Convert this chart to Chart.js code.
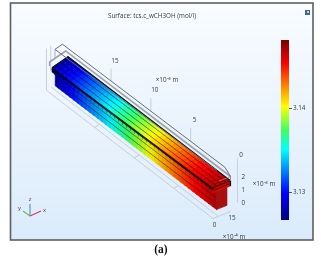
<!DOCTYPE html>
<html><head><meta charset="utf-8">
<script src="https://cdn.jsdelivr.net/npm/chart.js@4"></script>
<style>
html,body{margin:0;padding:0;background:#fff;width:321px;height:257px;overflow:hidden}
#wrap{position:absolute;left:0;top:0;width:321px;height:257px}
canvas{position:absolute;left:0;top:0;filter:blur(.4px)}
#cap{position:absolute;left:141px;width:40px;top:242px;text-align:center;font:bold 11.5px/14px "Liberation Serif",serif;color:#111}
</style></head><body>
<div id="wrap"><canvas id="main" width="321" height="257"></canvas><canvas id="bar" width="321" height="257"></canvas><div id="cap">(a)</div></div>
<script>
// ---- data ----
const titleText = "Surface: tcs.c_wCH3OH (mol/l)";
const lengthStations = [0,0.5,1,1.5,2,2.5,3,3.5,4,4.5,5,5.5,6,6.5,7,7.5,8,8.5,9,9.5,10,10.5,11,11.5,12,12.5,13,13.5,14,14.5,15,15.5,16,16.5,17,17.5,18,18.5,19,19.5,20,20.4];
const surfaceValues = [3.1468,3.1465,3.1462,3.1459,3.1456,3.1453,3.1449,3.1445,3.1441,3.1437,3.1433,3.1428,3.1424,3.1419,3.1414,3.1409,3.1404,3.1399,3.1394,3.1389,3.1384,3.1379,3.1373,3.1368,3.1363,3.1358,3.1352,3.1347,3.1342,3.1337,3.1332,3.1327,3.1322,3.1317,3.1312,3.1307,3.1302,3.1297,3.1292,3.1287,3.1281,3.1275];
const colorScaleMin = 3.1267, colorScaleMax = 3.1481;
const colorBarTicks = [3.13, 3.14];
const colorFractions = [0,0.15,0.39,0.5,0.63,0.75,0.87,1];
const colorHexes = ["#00007a","#0000ff","#00ffff","#40ff60","#ffff00","#ff8000","#ff0000","#7a0000"];
const lengthTicks = [15,10,5];
const widthTicks = [0,15];
const heightTicks = [0,1,2];
const barLength = 20.4, barWidth = 15;
const stemSide = [3,12];            // v range of lower channel
const flangeHeights = [1.45,1.85];  // w range of upper plate
const topChannelLines = [3.5,7.5,11.5];
const stemChannelLines = [0.45,0.95];

// ---- projection of model coordinates to the chart's view scale ----
function project(u,v,w){
  const t=u/barLength;
  const ox=213+(52-213)*t, oy=211+(88-211)*t;
  const vx=(17.5+(16-17.5)*t)/barWidth, vy=(-7+(-11+7)*t)/barWidth;
  const h=12.5+(11-12.5)*t;
  return {x:ox+vx*v, y:oy+vy*v-h*w};
}
const P=(a)=>a.map(p=>project(p[0],p[1],p[2]));
function hexRgb(h){return [1,3,5].map(i=>parseInt(h.substr(i,2),16));}
function colorOf(val,shade){
  let f=(val-colorScaleMin)/(colorScaleMax-colorScaleMin); f=Math.max(0,Math.min(1,f));
  let i=0; while(i<colorFractions.length-2 && f>colorFractions[i+1]) i++;
  const k=(f-colorFractions[i])/(colorFractions[i+1]-colorFractions[i]);
  const a=hexRgb(colorHexes[i]),b=hexRgb(colorHexes[i+1]);
  return "rgb("+a.map((c,j)=>Math.round((c+(b[j]-c)*k)*shade)).join(",")+")";
}
const sets=[];
function poly(pts,color){sets.push({data:P(pts),showLine:true,fill:'shape',backgroundColor:color,borderColor:color,borderWidth:.6,pointRadius:0,tension:0,clip:false});}
function line(pts,color,w){sets.push({data:P(pts),showLine:true,fill:false,borderColor:color,borderWidth:w,pointRadius:0,tension:0,clip:false});}

const wTop=2.6, wFloor=-.6, uA=.7, uB=21.1, lg="#c9cfd6", dg="#6b6f74";
// floor wires
line([[uB,0,wFloor],[0,0,wFloor],[0,15,wFloor]],lg,1);
line([[uB,4.5,wFloor],[0,4.5,wFloor]],lg,1);
lengthTicks.forEach(u=>line([[u,0,wFloor],[u,4.5,wFloor]],lg,1));
// far-end wires
line([[uB,0,wFloor],[uB,0,wTop+.6]],lg,1);
line([[uB,4,wFloor+1.5],[uB,4,wTop+.6]],lg,1);
line([[uB,8,1.8],[uB,8,wTop]],"#aab0b6",1);
// back vertical tick lines
lengthTicks.forEach(u=>line([[u,15,wTop],[u,15,3.7]],lg,1));
line([[-.8,15.5,.5],[-.8,15.5,4]],lg,1);
// bar faces
for(let i=0;i<lengthStations.length-1;i++){
  const a=lengthStations[i],b=lengthStations[i+1],val=surfaceValues[i];
  poly([[a,stemSide[0],0],[b,stemSide[0],0],[b,stemSide[0],flangeHeights[0]],[a,stemSide[0],flangeHeights[0]],[a,stemSide[0],0]],colorOf(val,.94));
  poly([[a,0,flangeHeights[0]],[b,0,flangeHeights[0]],[b,0,flangeHeights[1]],[a,0,flangeHeights[1]],[a,0,flangeHeights[0]]],colorOf(val,.55));
  poly([[a,0,flangeHeights[1]],[b,0,flangeHeights[1]],[b,barWidth,flangeHeights[1]],[a,barWidth,flangeHeights[1]],[a,0,flangeHeights[1]]],colorOf(val,1));
}
// near end faces
poly([[0,stemSide[0],0],[0,stemSide[1],0],[0,stemSide[1],flangeHeights[0]],[0,stemSide[0],flangeHeights[0]],[0,stemSide[0],0]],"#a81010");
poly([[0,0,flangeHeights[0]],[0,barWidth,flangeHeights[0]],[0,barWidth,flangeHeights[1]],[0,0,flangeHeights[1]],[0,0,flangeHeights[0]]],"#c80808");
// channel lines
topChannelLines.forEach(v=>line([[0,v,flangeHeights[1]],[barLength,v,flangeHeights[1]]],"rgba(0,0,0,.55)",.9));
stemChannelLines.forEach(w=>line([[0,stemSide[0],w],[barLength,stemSide[0],w]],"rgba(0,0,0,.5)",.9));
line([[0,0,flangeHeights[1]-.1],[barLength,0,flangeHeights[1]-.1]],"rgba(0,0,0,.85)",2);
line([[0,0,1.65],[0,barWidth,1.65]],"rgba(0,0,0,.7)",.7);
line([[0,0,flangeHeights[1]],[0,barWidth,flangeHeights[1]]],"rgba(0,0,0,.8)",.8);
line([[0,barWidth,flangeHeights[0]],[0,barWidth,flangeHeights[1]],[barLength,barWidth,flangeHeights[1]],[barLength,0,flangeHeights[1]]],"#101014",1.2);
// wires over bar
line([[0,barWidth,2.2],[barLength+.3,barWidth,2.2],[barLength+.3,0,2.2],[barLength+.3,0,flangeHeights[1]]],"#9ea2a6",1.6);
line([[0,5,2.2],[0,barWidth,2.2],[0,barWidth,flangeHeights[1]]],"#8a8e92",.8);
line([[uA,8,wTop],[uB,8,wTop],[uB,15,wTop],[uA,15,wTop],[0,15,2.2]],dg,1);

// axis triad (view-independent indicator)
const triad=[{to:[30,204],c:"#4a90d0",l:"z",at:[30,199]},{to:[41,211],c:"#e0306a",l:"x",at:[44.5,210]},{to:[23,211],c:"#60c050",l:"y",at:[19.5,208]}];

const textColor="#3a3a3a", fontFam='"Open Sans",sans-serif';
const lengthLabelPts = lengthTicks.map(u=>{const p=project(u,15,4.35);return {t:String(u),x:p.x+4,y:p.y};});
const widthLabelPts = widthTicks.map(v=>{const p=project(0,v,-1.15);return {t:String(v),x:p.x+1.5,y:p.y};});
const heightLabelPts = heightTicks.map(w=>{const p=project(-.8,16.3,w+.45);return {t:String(w),x:p.x+5,y:p.y-(w*.2)};});

const decorate={
  id:'decorate',
  beforeDraw(c){
    const x=c.ctx;
    x.save();
    const g=x.createLinearGradient(0,3,0,240);
    g.addColorStop(0,"#f9fcff");g.addColorStop(1,"#dbebfb");
    x.fillStyle=g;x.fillRect(10,3,303,237);
    x.strokeStyle="#5c5f60";x.lineWidth=1.6;x.strokeRect(10.5,3,302.5,237);
    // graphics-window icon
    x.fillStyle="#3a62b8";x.fillRect(305,10,5,5);x.fillStyle="#f2d060";x.fillRect(307,11,2,2);
    x.restore();
  },
  afterDraw(c){
    const x=c.ctx;
    x.save();
    triad.forEach(a=>{
      x.strokeStyle=a.c;x.fillStyle=a.c;x.lineWidth=1.1;
      x.beginPath();x.moveTo(30,216);x.lineTo(a.to[0],a.to[1]);x.stroke();
    });
    x.fillStyle=textColor;x.textAlign="center";x.textBaseline="middle";
    x.font="5.8px "+fontFam;
    triad.forEach(a=>x.fillText(a.l,a.at[0],a.at[1]));
    x.font="6.3px "+fontFam;
    x.fillText(titleText,152,16);
    [...lengthLabelPts,...widthLabelPts,...heightLabelPts].forEach(l=>x.fillText(l.t,l.x,l.y));
    x.fillText("0",241,155);
    x.fillText("×10⁻³ m",167,80);
    x.fillText("×10⁻³ m",264,184);
    x.fillText("×10⁻⁴ m",234,237);
    x.restore();
  }
};
new Chart(document.getElementById('main'),{
  type:'scatter',
  data:{datasets:sets.slice().reverse()},
  options:{responsive:false,animation:false,
    layout:{padding:0},
    plugins:{legend:{display:false},tooltip:{enabled:false},title:{display:false}},
    scales:{x:{type:'linear',display:false,min:0,max:321},y:{type:'linear',display:false,min:0,max:257,reverse:true}}
  },
  plugins:[decorate]
});
new Chart(document.getElementById('bar'),{
  type:'bar',
  data:{labels:['c'],datasets:[{data:[[colorScaleMin,colorScaleMax]],barPercentage:1,categoryPercentage:1,borderWidth:0,
    backgroundColor(ctx){
      const ch=ctx.chart,a=ch.chartArea; if(!a) return "#000";
      const g=ch.ctx.createLinearGradient(0,a.bottom,0,a.top);
      colorFractions.forEach((f,i)=>g.addColorStop(f,colorHexes[i]));
      return g;
    }}]},
  options:{responsive:false,animation:false,
    layout:{padding:{left:281,top:40,bottom:37,right:0}},
    plugins:{legend:{display:false},tooltip:{enabled:false}},
    scales:{
      x:{display:false},
      y:{type:'linear',position:'right',min:colorScaleMin,max:colorScaleMax,
        afterBuildTicks(s){s.ticks=colorBarTicks.map(v=>({value:v}));},
        afterFit(s){s.width=32;},
        grid:{drawOnChartArea:false,drawTicks:true,tickLength:3,color:"#555"},
        border:{display:false},
        ticks:{color:textColor,font:{size:6.3,family:'"Open Sans",sans-serif'},padding:1,callback:v=>v.toFixed(2)}
      }
    }
  }
});
</script>
</body></html>
